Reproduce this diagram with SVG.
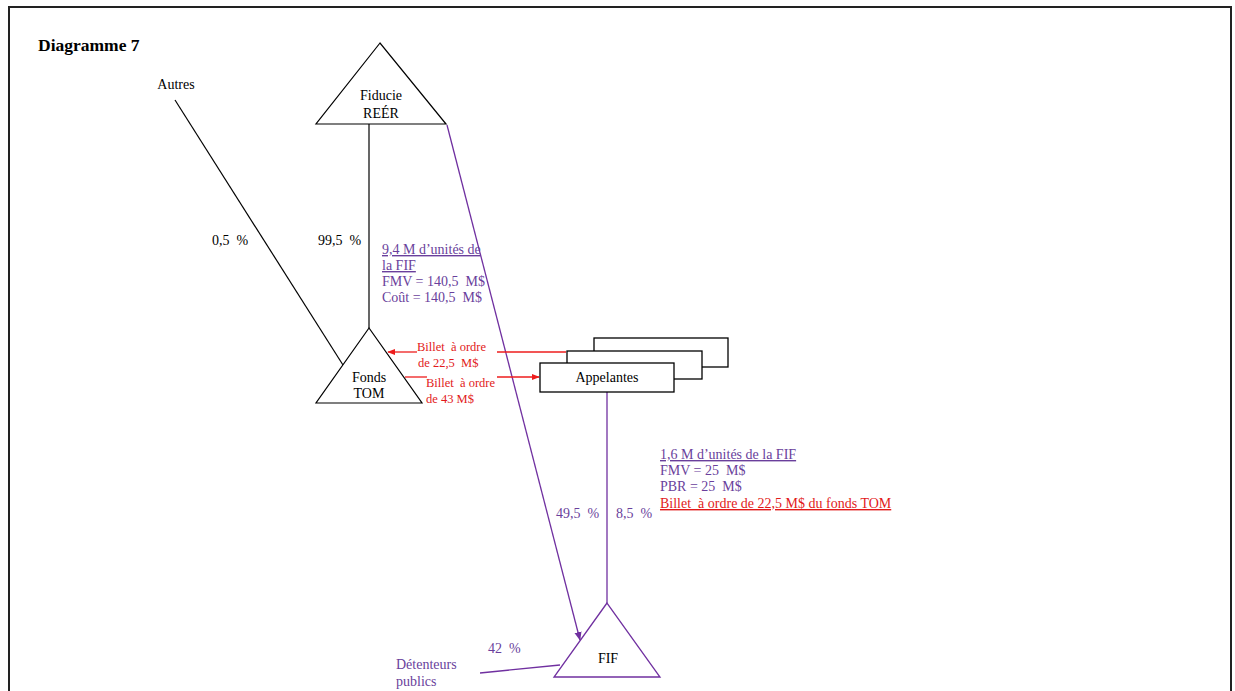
<svg xmlns="http://www.w3.org/2000/svg" width="1235" height="691" viewBox="0 0 1235 691" xml:space="preserve">
<defs>
<style>
text{font-family:"Liberation Serif","Times New Roman",serif;font-size:14px;fill:#000;white-space:pre}
.k{stroke:#000;stroke-width:1.2;fill:none}
.tri{stroke:#000;stroke-width:1.2;fill:#fff}
.p{stroke:#7030A0;stroke-width:1.3;fill:none}
.r{stroke:#ee1c1c;stroke-width:1.3;fill:none}
.pt{fill:#6a3f9c}
.rt{fill:#e21a1a}
.sm{font-size:12.5px}
.box{stroke:#000;stroke-width:1.3;fill:#fff}
</style>
<marker id="ar" viewBox="0 0 10 10" refX="9" refY="5" markerWidth="8" markerHeight="8" orient="auto" markerUnits="userSpaceOnUse"><path d="M0,1 L10,5 L0,9 z" fill="#ee1c1c"/></marker>
<marker id="ap" viewBox="0 0 10 10" refX="9" refY="5" markerWidth="9" markerHeight="9" orient="auto" markerUnits="userSpaceOnUse"><path d="M0,1 L10,5 L0,9 z" fill="#7030A0"/></marker>
</defs>
<rect width="1235" height="691" fill="#fff"/>
<path d="M9,700 L9,7 L1231,7 L1231,700" fill="none" stroke="#222" stroke-width="2"/>
<text x="38" y="51" style="font-size:17.5px;font-weight:bold">Diagramme 7</text>
<g id="connectors">
<line class="k" x1="175" y1="100" x2="343" y2="365"/>
<line class="k" x1="369" y1="124" x2="369" y2="328"/>
<line class="p" x1="447" y1="125" x2="580" y2="640" marker-end="url(#ap)"/>
<line class="p" x1="607" y1="392" x2="607" y2="603"/>
<line class="p" x1="480" y1="673" x2="560" y2="665"/>
<line class="r" x1="566" y1="352" x2="497" y2="352"/>
<line class="r" x1="417" y1="352" x2="388" y2="352" marker-end="url(#ar)"/>
<line class="r" x1="405" y1="377" x2="427" y2="377"/>
<line class="r" x1="497" y1="377" x2="539" y2="377" marker-end="url(#ar)"/>
</g>
<g id="fiducie">
<polygon class="tri" points="380,43 316,124 446,124"/>
<text x="381" y="100" text-anchor="middle">Fiducie</text>
<text x="381" y="118" text-anchor="middle">REÉR</text>
</g>
<g id="fonds-tom">
<polygon class="tri" points="369,328 316,403 422,403"/>
<text x="369" y="382" text-anchor="middle">Fonds</text>
<text x="369" y="398" text-anchor="middle">TOM</text>
</g>
<g id="appelantes">
<rect class="box" x="594" y="338" width="134" height="29"/>
<rect class="box" x="567" y="351" width="135" height="28"/>
<rect class="box" x="540" y="363" width="134" height="29"/>
<text x="607" y="382" text-anchor="middle">Appelantes</text>
</g>
<g id="fif">
<polygon class="p" style="fill:#fff" points="607,603 554,677 660,677"/>
<text x="608" y="663" text-anchor="middle">FIF</text>
</g>
<g id="labels">
<text x="176" y="89" text-anchor="middle">Autres</text>
<text x="212" y="245">0,5  %</text>
<text x="318" y="245">99,5  %</text>
<text x="382" y="254" class="pt" text-decoration="underline">9,4 M d’unités de</text>
<text x="382" y="270" class="pt" text-decoration="underline">la FIF</text>
<text x="382" y="286" class="pt">FMV = 140,5  M$</text>
<text x="382" y="302" class="pt">Coût = 140,5  M$</text>
<text x="417" y="351" class="rt sm">Billet  à ordre</text>
<text x="418" y="367" class="rt sm">de 22,5  M$</text>
<text x="426" y="387" class="rt sm">Billet  à ordre</text>
<text x="426" y="403" class="rt sm">de 43 M$</text>
<text x="660" y="459" class="pt" text-decoration="underline">1,6 M d’unités de la FIF</text>
<text x="660" y="475" class="pt">FMV = 25  M$</text>
<text x="660" y="491" class="pt">PBR = 25  M$</text>
<text x="660" y="508" class="rt" text-decoration="underline">Billet  à ordre de 22,5 M$ du fonds TOM</text>
<text x="556" y="518" class="pt">49,5  %</text>
<text x="616" y="518" class="pt">8,5  %</text>
<text x="488" y="653" class="pt">42  %</text>
<text x="396" y="669" class="pt">Détenteurs</text>
<text x="396" y="686" class="pt">publics</text>
</g>
</svg>
